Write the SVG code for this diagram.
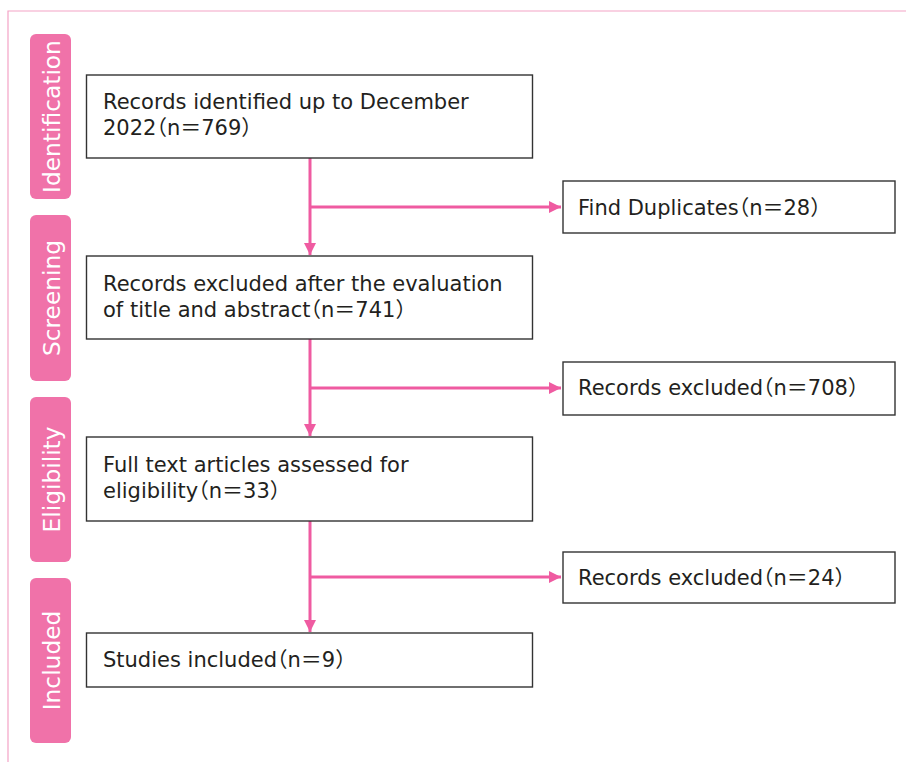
<svg xmlns="http://www.w3.org/2000/svg" width="906" height="762" viewBox="0 0 906 762">
  <style>
    .frame { fill: none; stroke: #f4a3c6; stroke-width: 1.2; }
    .stage { fill: #f072a9; }
    .stage-label { fill: #ffffff; font-family: "DejaVu Sans", "Noto Sans", sans-serif; font-size: 23.3px; text-anchor: middle; dominant-baseline: central; }
    .box { fill: #ffffff; stroke: #333333; stroke-width: 1.4; }
    .txt { fill: #231f20; font-family: "DejaVu Sans", "Noto Sans CJK JP", sans-serif; font-size: 21px; font-feature-settings: "halt"; }
    .flow { fill: none; stroke: #ef5ba1; stroke-width: 3; }
  </style>
  <defs>
    <marker id="head" viewBox="0 0 10 10" refX="10" refY="5" markerWidth="4" markerHeight="4" orient="auto" markerUnits="strokeWidth">
      <path d="M0,0 L10,5 L0,10 Z" fill="#ef5ba1"/>
    </marker>
  </defs>

  <rect width="906" height="762" fill="#ffffff"/>
  <!-- outer frame: top and left edges only -->
  <path class="frame" d="M8,762 V11 H906"/>

  <!-- stage bands -->
  <g id="stage-identification">
    <rect class="stage" x="30" y="34" width="41" height="165" rx="6"/>
    <text class="stage-label" transform="translate(51,116.5) rotate(-90)">Identification</text>
  </g>
  <g id="stage-screening">
    <rect class="stage" x="30" y="215" width="41" height="166" rx="6"/>
    <text class="stage-label" transform="translate(51,298) rotate(-90)">Screening</text>
  </g>
  <g id="stage-eligibility">
    <rect class="stage" x="30" y="397" width="41" height="165" rx="6"/>
    <text class="stage-label" transform="translate(51,479.5) rotate(-90)">Eligibility</text>
  </g>
  <g id="stage-included">
    <rect class="stage" x="30" y="578" width="41" height="165" rx="6"/>
    <text class="stage-label" transform="translate(51,660.5) rotate(-90)">Included</text>
  </g>

  <!-- connectors -->
  <g id="connectors">
    <path class="flow" d="M310,158 V255" marker-end="url(#head)"/>
    <path class="flow" d="M310,207 H561" marker-end="url(#head)"/>
    <path class="flow" d="M310,339 V436" marker-end="url(#head)"/>
    <path class="flow" d="M310,388 H561" marker-end="url(#head)"/>
    <path class="flow" d="M310,521 V632" marker-end="url(#head)"/>
    <path class="flow" d="M310,577 H561" marker-end="url(#head)"/>
  </g>

  <!-- main column -->
  <g id="records-identified">
    <rect class="box" x="86.5" y="75" width="446" height="83"/>
    <text class="txt" x="103" y="109">Records identified up to December</text>
    <text class="txt" x="103" y="135">2022（n＝769）</text>
  </g>
  <g id="records-screened">
    <rect class="box" x="86.5" y="256" width="446" height="83"/>
    <text class="txt" x="103" y="291">Records excluded after the evaluation</text>
    <text class="txt" x="103" y="317">of title and abstract（n＝741）</text>
  </g>
  <g id="full-text">
    <rect class="box" x="86.5" y="437" width="446" height="84"/>
    <text class="txt" x="103" y="472">Full text articles assessed for</text>
    <text class="txt" x="103" y="498">eligibility（n＝33）</text>
  </g>
  <g id="studies-included">
    <rect class="box" x="86.5" y="633" width="446" height="54"/>
    <text class="txt" x="103" y="667">Studies included（n＝9）</text>
  </g>

  <!-- exclusion column -->
  <g id="duplicates">
    <rect class="box" x="563" y="181" width="332" height="52"/>
    <text class="txt" x="578" y="215">Find Duplicates（n＝28）</text>
  </g>
  <g id="excluded-screening">
    <rect class="box" x="563" y="362" width="332" height="53"/>
    <text class="txt" x="578" y="395">Records excluded（n＝708）</text>
  </g>
  <g id="excluded-eligibility">
    <rect class="box" x="563" y="552" width="332" height="51"/>
    <text class="txt" x="578" y="585">Records excluded（n＝24）</text>
  </g>
</svg>
